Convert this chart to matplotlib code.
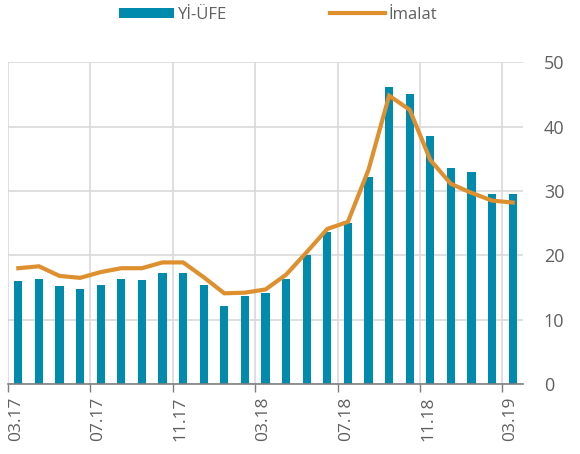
import numpy as np
import matplotlib
matplotlib.use("Agg")
import matplotlib.pyplot as plt
from matplotlib.patches import Patch
from matplotlib.lines import Line2D

plt.rcParams['font.family'] = ['Open Sans', 'DejaVu Sans']

months = ["03.17", "04.17", "05.17", "06.17", "07.17", "08.17", "09.17", "10.17",
          "11.17", "12.17", "01.18", "02.18", "03.18", "04.18", "05.18", "06.18",
          "07.18", "08.18", "09.18", "10.18", "11.18", "12.18", "01.19", "02.19", "03.19"]
yiufe = [16.0, 16.3, 15.2, 14.8, 15.4, 16.3, 16.2, 17.2, 17.3, 15.4, 12.1, 13.7, 14.2,
         16.3, 20.1, 23.6, 25.0, 32.1, 46.1, 45.0, 38.5, 33.6, 32.9, 29.5, 29.5]
imalat = [18.0, 18.3, 16.8, 16.5, 17.4, 18.0, 18.0, 18.9, 18.9, 16.6, 14.1, 14.2, 14.7,
          17.0, 20.5, 24.1, 25.2, 33.3, 44.8, 42.6, 34.8, 31.1, 29.7, 28.5, 28.2]

bar_color = "#008AAD"
line_color = "#DE902F"
grid_color = "#D9D9D9"
text_color = "#606060"

fig = plt.figure(figsize=(5.8, 4.54), dpi=100)
ax = fig.add_axes([0.0138, 0.154, 0.888, 0.709])

x = np.arange(len(months))
ax.bar(x, yiufe, width=0.4, color=bar_color, zorder=2)
ax.plot(x, imalat, color=line_color, lw=3, zorder=3, solid_joinstyle='miter')

ax.set_xlim(-0.5, len(months) - 0.5)
ax.set_ylim(0, 50)
tick_idx = list(range(0, len(months), 4))
ax.set_xticks([i - 0.5 for i in tick_idx])
ax.set_xticklabels([months[i] for i in tick_idx], rotation=90, ha='left',
                   fontsize=12.5, color=text_color)
ax.set_yticks([0, 10, 20, 30, 40, 50])
ax.yaxis.tick_right()
ax.tick_params(axis='y', length=0, labelsize=13, colors=text_color, pad=15)
ax.tick_params(axis='x', length=6, width=1, color="#7F7F7F", pad=3)

ax.grid(True, color=grid_color, lw=1.2, zorder=0)
ax.set_axisbelow(True)
for s in ['top', 'right', 'left']:
    ax.spines[s].set_visible(False)
ax.spines['bottom'].set_color("#7F7F7F")
ax.spines['bottom'].set_linewidth(1.2)
ax.spines['bottom'].set_zorder(4)

handles = [Patch(facecolor=bar_color, edgecolor='none', label="Yİ-ÜFE"),
           Line2D([0], [0], color=line_color, lw=3, label="İmalat")]
fig.legend(handles=handles, loc='center', bbox_to_anchor=(0.48, 0.968), ncol=2,
           frameon=False, fontsize=12, handlelength=3.3, handleheight=0.55,
           handletextpad=0.2, columnspacing=6.2, labelcolor=text_color)

fig.savefig("out.png", dpi=100)
